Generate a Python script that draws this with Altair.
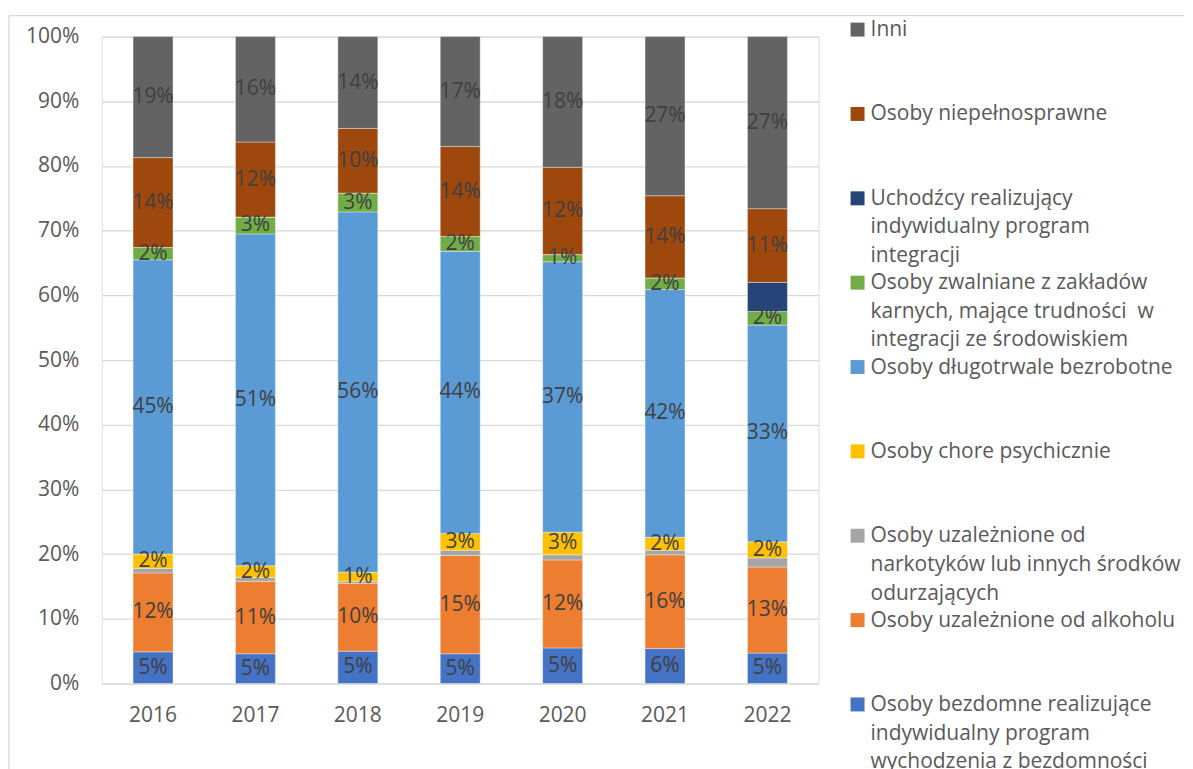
import altair as alt
import pandas as pd

YEARS = ["2016", "2017", "2018", "2019", "2020", "2021", "2022"]

# categories from bottom of the stack to top
CATEGORIES = [
    "Osoby bezdomne realizujące indywidualny program wychodzenia z bezdomności",
    "Osoby uzależnione od alkoholu",
    "Osoby uzależnione od narkotyków lub innych środków odurzających",
    "Osoby chore psychicznie",
    "Osoby długotrwale bezrobotne",
    "Osoby zwalniane z zakładów karnych, mające trudności  w integracji ze środowiskiem",
    "Uchodźcy realizujący indywidualny program integracji",
    "Osoby niepełnosprawne",
    "Inni",
]
LEGEND_TEXT = [
    "Osoby bezdomne realizujące\nindywidualny program\nwychodzenia z bezdomności",
    "Osoby uzależnione od alkoholu",
    "Osoby uzależnione od\nnarkotyków lub innych środków\nodurzających",
    "Osoby chore psychicznie",
    "Osoby długotrwale bezrobotne",
    "Osoby zwalniane z zakładów\nkarnych, mające trudności\u00a0 w\nintegracji ze środowiskiem",
    "Uchodźcy realizujący\nindywidualny program\nintegracji",
    "Osoby niepełnosprawne",
    "Inni",
]
COLORS = ["#4472C4", "#ED7D31", "#A5A5A5", "#FFC000", "#5B9BD5",
          "#70AD47", "#264478", "#9E480E", "#636363"]

# shares per year (as drawn)
BEZDOMNE = [4.9, 4.6, 5.0, 4.6, 5.5, 5.4, 4.7]
ALKOHOL = [12.2, 11.2, 10.5, 15.2, 13.6, 14.5, 13.3]
NARKOTYKI = [0.7, 0.6, 0.3, 0.8, 0.8, 0.7, 1.4]
CHORE = [2.2, 1.8, 1.4, 2.6, 3.5, 2.0, 2.5]
DLUGOTRWALE = [45.5, 51.3, 55.7, 43.6, 41.8, 38.3, 33.5]
ZWALNIANE = [1.9, 2.6, 2.9, 2.3, 1.1, 1.8, 2.1]
UCHODZCY = [0, 0, 0, 0, 0, 0, 4.5]
NIEPELNOSPRAWNE = [13.9, 11.6, 10.0, 13.9, 13.5, 12.7, 11.4]
INNI = [18.7, 16.3, 14.2, 17.0, 20.2, 24.6, 26.6]

# data labels as printed on the chart
LBL_BEZDOMNE = ["5%", "5%", "5%", "5%", "5%", "6%", "5%"]
LBL_ALKOHOL = ["12%", "11%", "10%", "15%", "12%", "16%", "13%"]
LBL_NARKOTYKI = ["", "", "", "", "", "", ""]
LBL_CHORE = ["2%", "2%", "1%", "3%", "3%", "2%", "2%"]
LBL_DLUGOTRWALE = ["45%", "51%", "56%", "44%", "37%", "42%", "33%"]
LBL_ZWALNIANE = ["2%", "3%", "3%", "2%", "1%", "2%", "2%"]
LBL_UCHODZCY = ["", "", "", "", "", "", ""]
LBL_NIEPELNOSPRAWNE = ["14%", "12%", "10%", "14%", "12%", "14%", "11%"]
LBL_INNI = ["19%", "16%", "14%", "17%", "18%", "27%", "27%"]

SERIES = [BEZDOMNE, ALKOHOL, NARKOTYKI, CHORE, DLUGOTRWALE,
          ZWALNIANE, UCHODZCY, NIEPELNOSPRAWNE, INNI]
LABELS = [LBL_BEZDOMNE, LBL_ALKOHOL, LBL_NARKOTYKI, LBL_CHORE, LBL_DLUGOTRWALE,
          LBL_ZWALNIANE, LBL_UCHODZCY, LBL_NIEPELNOSPRAWNE, LBL_INNI]

rows = []
for ci, (cat, vals, lbls) in enumerate(zip(CATEGORIES, SERIES, LABELS)):
    for yi, yr in enumerate(YEARS):
        rows.append({"year": yr, "cat": cat, "order": ci,
                     "value": vals[yi], "label": lbls[yi]})
df = pd.DataFrame(rows)

leg = pd.DataFrame({
    "cat": CATEGORIES,
    "text": LEGEND_TEXT,
    "idx": [len(CATEGORIES) - 1 - i for i in range(len(CATEGORIES))],
})

FONT = "Open Sans"
FS = 21
W, H = 718, 648

color = alt.Color("cat:N", scale=alt.Scale(domain=CATEGORIES, range=COLORS), legend=None)

base = alt.Chart(df).transform_stack(
    stack="value", as_=["y0", "y1"], groupby=["year"],
    sort=[alt.SortField("order", order="ascending")], offset="normalize",
).transform_calculate(mid="(datum.y0 + datum.y1) / 2")

xenc = alt.X("year:N", sort=YEARS, title=None,
             axis=alt.Axis(labelAngle=0, ticks=False, domain=False, labelPadding=21,
                           labelFontSize=FS, labelFont=FONT, labelColor="#595959"))

bars = base.mark_bar(size=40, stroke="white", strokeWidth=0.6, strokeOpacity=0.6).encode(
    x=xenc,
    y=alt.Y("y0:Q", scale=alt.Scale(domain=[0, 1]), title=None,
            axis=alt.Axis(format=".0%", values=[i / 10 for i in range(11)],
                          ticks=False, domain=False, labelPadding=23,
                          labelFontSize=FS, labelFont=FONT, labelColor="#595959",
                          gridColor="#d9d9d9", gridWidth=1.3)),
    y2="y1:Q",
    color=color,
)

texts = base.transform_filter("datum.label != ''").mark_text(
    fontSize=FS, font=FONT, color="#404040", baseline="middle"
).encode(
    x=xenc,
    y=alt.Y("mid:Q", scale=alt.Scale(domain=[0, 1]), axis=None),
    text="label:N",
)

# legend drawn at the right, one entry per category
LEG_SCALE = alt.Scale(domain=[0.083, 0.083 + H / 84.5], reverse=True, zero=False, nice=False)
leg_sym = alt.Chart(leg).mark_square(size=196, opacity=1).encode(
    x=alt.value(757),
    y=alt.Y("idx:Q", scale=LEG_SCALE, axis=None),
    color=color,
)
leg_txt = alt.Chart(leg).mark_text(
    align="left", baseline="top", dy=-10.5, lineBreak="\n", lineHeight=28.7,
    fontSize=FS, font=FONT, color="#595959",
).encode(
    x=alt.value(770),
    y=alt.Y("idx:Q", scale=LEG_SCALE, axis=None),
    text="text:N",
)

frame_df = pd.DataFrame({"k": [0]})
frame_v = alt.Chart(frame_df).mark_rule(color="#d9d9d9", strokeWidth=1.3).encode(
    x=alt.value(-93), y=alt.value(-21), y2=alt.value(734))
frame_h = alt.Chart(frame_df).mark_rule(color="#d9d9d9", strokeWidth=1.3).encode(
    x=alt.value(-93), x2=alt.value(1084), y=alt.value(-21))

chart = alt.layer(bars, texts, leg_sym, leg_txt, frame_v, frame_h).resolve_scale(
    y="independent"
).properties(
    width=W, height=H,
    padding={"left": 0, "top": 6, "right": 0, "bottom": 0},
).configure_view(stroke=None).configure(background="white")

chart.save("out.html", embed_options={"renderer": "svg", "actions": False})
